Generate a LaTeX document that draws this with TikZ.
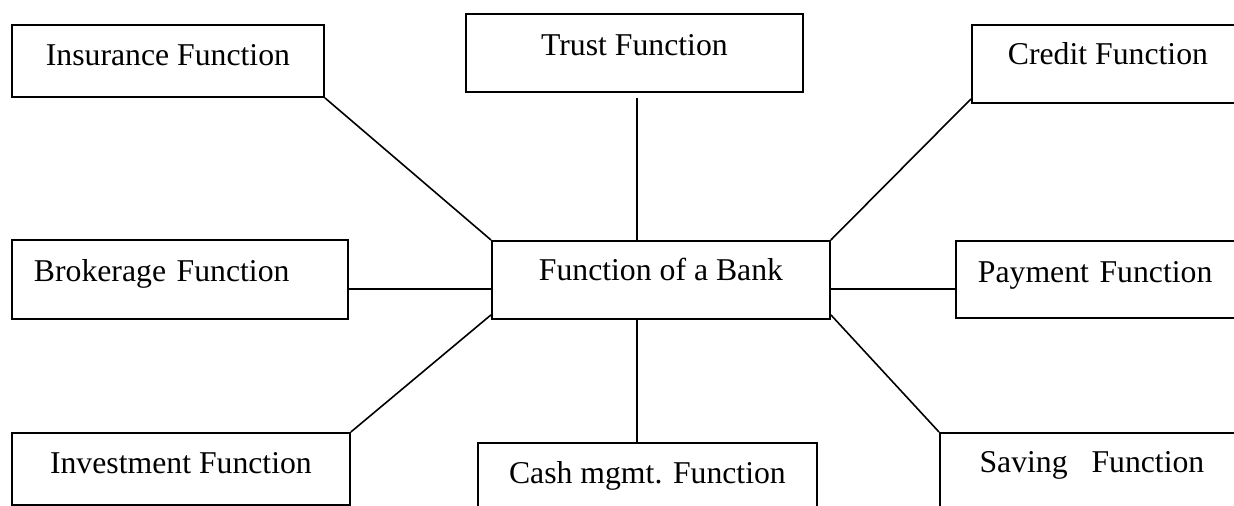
\documentclass[tikz,border=0pt]{standalone}
\usepackage{fontspec}
\setmainfont{Liberation Serif}
\begin{document}
\begin{tikzpicture}[x=0.75pt,y=-0.75pt,
  fbox/.style={draw,line width=1.4pt,rectangle,inner sep=0pt,anchor=north west,
    font=\fontsize{23.8pt}{28pt}\selectfont},
  lbox/.style={fbox,inner xsep=16.5pt,align=left},
  conn/.style={line width=1.2pt}]
\useasboundingbox (0,0) rectangle (1234,506);
\clip (0,0) rectangle (1234,506);
\fill[white] (0,0) rectangle (1234,506);
\node[fbox,minimum width=234pt,text height=30.75pt,text depth=23.25pt] (ins) at (11,24) {Insurance Function};
\node[fbox,minimum width=252.75pt,text height=31.5pt,text depth=27pt] (trust) at (465,13) {Trust Function};
\node[fbox,minimum width=204pt,text height=30pt,text depth=28.5pt] (credit) at (971,24) {Credit Function};
\node[lbox,text width=219pt,text height=31.5pt,text depth=27.75pt] (brok) at (11,239) {Brokerage Function};
\node[fbox,minimum width=253.5pt,text height=30pt,text depth=28.5pt] (bank) at (491,240) {Function of a Bank};
\node[lbox,text width=183pt,text height=31.5pt,text depth=26.25pt] (pay) at (955,240) {Payment Function};
\node[fbox,minimum width=253.5pt,text height=30.75pt,text depth=23.25pt] (inv) at (11,432) {Investment Function};
\node[fbox,minimum width=254.25pt,text height=30.75pt,text depth=27.75pt] (cash) at (477,442) {Cash mgmt. Function};
\node[fbox,minimum width=228pt,text height=30pt,text depth=28.5pt] (sav) at (939,432) {Saving\ \ \ Function};
\draw[conn] (ins.south east) -- (bank.north west);
\draw[conn] ([xshift=1.9pt,yshift=-3.75pt]trust.south) -- ([xshift=1.9pt]trust.south |- bank.north);
\draw[conn] (bank.north east) -- ([yshift=3.75pt]credit.south west);
\draw[conn] ([yshift=-7.1pt]brok.east) -- ([yshift=-7.1pt]brok.east -| bank.west);
\draw[conn] ([yshift=-6.75pt]bank.east) -- ([yshift=-6.75pt]bank.east -| pay.west);
\draw[conn] (inv.north east) -- ([yshift=3.75pt]bank.south west);
\draw[conn] ([xshift=-18pt]bank.south) -- ([xshift=-18pt]bank.south |- cash.north);
\draw[conn] ([yshift=3.75pt]bank.south east) -- (sav.north west);
\end{tikzpicture}
\end{document}
